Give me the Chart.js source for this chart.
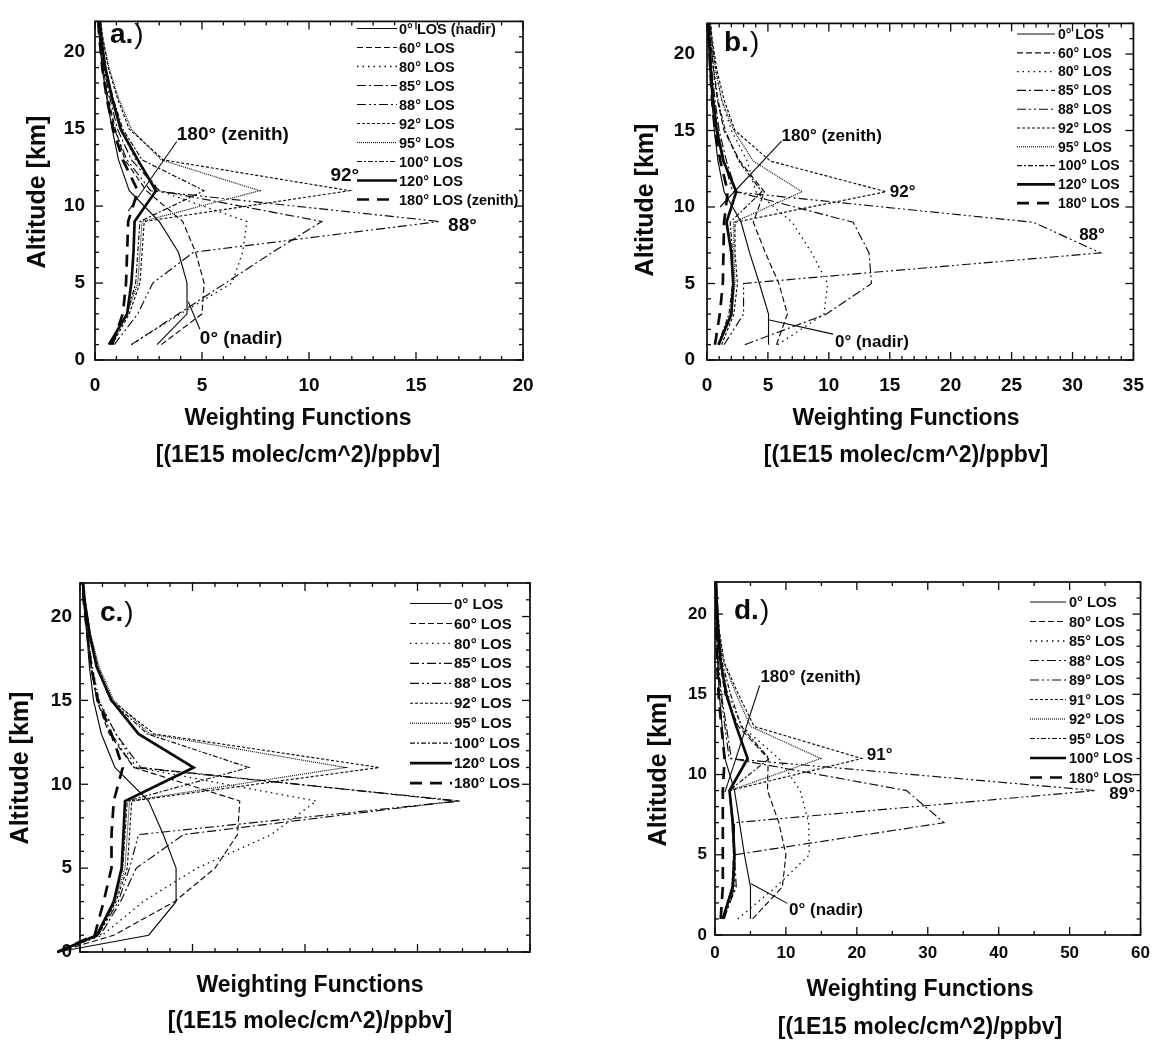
<!DOCTYPE html>
<html>
<head>
<meta charset="utf-8">
<script src="https://cdn.jsdelivr.net/npm/chart.js@4/dist/chart.umd.min.js"></script>
<style>
html,body{margin:0;padding:0;background:#fff;width:1158px;height:1042px;overflow:hidden}
canvas{position:absolute;left:0;top:0}
</style>
</head>
<body>
<canvas id="pa" width="1158" height="1042"></canvas>
<canvas id="pb" width="1158" height="1042"></canvas>
<canvas id="pc" width="1158" height="1042"></canvas>
<canvas id="pd" width="1158" height="1042"></canvas>
<script>
// ---------------- DATA ----------------
const altitudes = [1, 3, 5, 7, 9, 11, 13, 15, 17, 19, 21, 23];
const altitudesC = [0, 1, 3, 5, 7, 9, 11, 13, 15, 17, 19, 21, 23];

const labelsA = ['0° LOS (nadir)', '60° LOS', '80° LOS', '85° LOS', '88° LOS', '92° LOS', '95° LOS', '100° LOS', '120° LOS', '180° LOS (zenith)'];
const labelsBC = ['0° LOS', '60° LOS', '80° LOS', '85° LOS', '88° LOS', '92° LOS', '95° LOS', '100° LOS', '120° LOS', '180° LOS'];
const labelsD = ['0° LOS', '80° LOS', '85° LOS', '88° LOS', '89° LOS', '91° LOS', '92° LOS', '95° LOS', '100° LOS', '180° LOS'];

// panel a
const a0   = [2.9, 4.3, 4.3, 3.9, 3.0, 1.6, 1.1, 0.8, 0.55, 0.33, 0.2, 0.1];
const a60  = [3.1, 5.0, 5.1, 4.7, 4.1, 2.4, 1.4, 0.95, 0.62, 0.38, 0.22, 0.12];
const a80  = [1.7, 4.0, 6.4, 6.9, 7.1, 3.0, 1.9, 1.2, 0.8, 0.48, 0.28, 0.15];
const a85  = [1.7, 3.9, 6.1, 8.3, 10.6, 3.0, 1.7, 1.05, 0.7, 0.42, 0.25, 0.13];
const a88  = [0.9, 2.0, 2.7, 4.6, 16.1, 2.6, 1.5, 0.9, 0.58, 0.35, 0.21, 0.11];
const a92  = [0.8, 1.6, 2.1, 2.2, 2.3, 11.9, 3.2, 1.6, 1.05, 0.62, 0.35, 0.18];
const a95  = [0.75, 1.5, 2.0, 2.1, 2.2, 7.7, 3.1, 1.7, 1.1, 0.65, 0.36, 0.19];
const a100 = [0.7, 1.5, 1.9, 2.0, 2.1, 5.1, 2.2, 1.3, 0.85, 0.5, 0.3, 0.16];
const a120 = [0.65, 1.5, 1.7, 1.8, 1.85, 2.85, 2.0, 1.2, 0.8, 0.48, 0.28, 0.15];
const a180 = [0.8, 1.3, 1.45, 1.5, 1.55, 2.0, 1.3, 0.85, 0.55, 0.34, 0.2, 0.1];

// panel b
const b0   = [5.05, 5.05, 4.3, 3.5, 2.8, 1.4, 0.9, 0.6, 0.4, 0.25, 0.15, 0.08];
const b60  = [5.7, 6.6, 5.9, 4.8, 3.8, 4.7, 2.7, 1.4, 0.85, 0.52, 0.3, 0.15];
const b80  = [5.8, 9.6, 9.9, 8.6, 7.0, 4.0, 3.3, 2.0, 1.2, 0.7, 0.38, 0.2];
const b85  = [3.1, 9.8, 13.5, 13.3, 12.0, 2.4, 1.6, 1.0, 0.65, 0.4, 0.22, 0.12];
const b88  = [1.4, 3.0, 3.0, 32.3, 26.8, 2.1, 1.4, 0.9, 0.55, 0.34, 0.2, 0.1];
const b92  = [1.2, 2.2, 2.5, 2.3, 2.3, 14.7, 5.2, 2.3, 1.4, 0.8, 0.42, 0.2];
const b95  = [1.0, 2.0, 2.3, 2.2, 2.2, 7.8, 3.8, 2.2, 1.2, 0.7, 0.38, 0.18];
const b100 = [0.9, 1.8, 2.1, 2.1, 1.9, 4.5, 2.6, 1.5, 0.9, 0.55, 0.3, 0.15];
const b120 = [0.95, 2.0, 2.15, 2.0, 1.6, 2.4, 1.35, 0.8, 0.5, 0.3, 0.17, 0.08];
const b180 = [0.65, 1.05, 1.3, 1.35, 1.4, 1.7, 1.1, 0.65, 0.42, 0.26, 0.15, 0.07];

// panel c
const c0   = [-1.0, 3.05, 4.27, 4.27, 3.7, 3.05, 1.55, 0.95, 0.6, 0.42, 0.3, 0.15, 0.05];
const c60  = [-1.0, 1.5, 4.2, 6.0, 7.0, 7.1, 2.4, 1.3, 0.75, 0.5, 0.32, 0.17, 0.06];
const c80  = [-1.0, 1.0, 2.8, 5.2, 8.5, 10.5, 2.5, 1.6, 0.85, 0.55, 0.35, 0.18, 0.07];
const c85  = [-1.0, 0.9, 1.8, 2.5, 4.6, 16.7, 2.7, 1.6, 0.8, 0.5, 0.32, 0.17, 0.06];
const c88  = [-1.0, 0.8, 1.7, 2.2, 2.6, 16.9, 2.4, 1.4, 0.75, 0.48, 0.31, 0.16, 0.06];
const c92  = [-1.0, 0.8, 1.6, 2.1, 2.2, 2.3, 13.3, 3.3, 1.4, 0.8, 0.45, 0.22, 0.08];
const c95  = [-1.0, 0.78, 1.55, 2.0, 2.1, 2.2, 11.8, 3.1, 1.5, 0.85, 0.45, 0.22, 0.08];
const c100 = [-1.0, 0.75, 1.5, 1.9, 2.0, 2.1, 7.5, 3.0, 1.35, 0.75, 0.42, 0.2, 0.08];
const c120 = [-1.0, 0.75, 1.5, 1.85, 1.93, 2.0, 5.05, 2.6, 1.4, 0.74, 0.42, 0.2, 0.08];
const c180 = [-1.0, 0.65, 1.05, 1.4, 1.4, 1.5, 1.9, 1.4, 0.8, 0.5, 0.32, 0.16, 0.06];

// panel d
const d0   = [5.0, 5.0, 4.15, 3.45, 2.75, 1.4, 1.0, 0.6, 0.38, 0.22, 0.12, 0.05];
const d80  = [5.3, 9.5, 10.0, 9.0, 7.4, 7.5, 3.3, 1.4, 0.7, 0.4, 0.2, 0.08];
const d85  = [3.2, 8.6, 13.3, 13.2, 12.0, 9.0, 3.8, 1.8, 0.9, 0.5, 0.25, 0.1];
const d88  = [1.2, 3.0, 2.75, 32.3, 27.0, 2.3, 1.6, 0.9, 0.5, 0.3, 0.15, 0.06];
const d89  = [1.3, 2.8, 2.7, 2.75, 53.7, 2.0, 1.4, 0.8, 0.45, 0.27, 0.14, 0.06];
const d91  = [1.2, 2.6, 2.8, 2.6, 2.05, 20.7, 5.5, 3.3, 1.3, 0.6, 0.3, 0.12];
const d92  = [1.1, 2.5, 2.7, 2.5, 2.05, 14.9, 5.0, 3.0, 1.2, 0.55, 0.28, 0.11];
const d95  = [1.1, 2.4, 2.6, 2.4, 2.0, 7.65, 3.7, 2.2, 1.0, 0.5, 0.25, 0.1];
const d100 = [1.1, 2.5, 2.75, 2.5, 2.05, 4.6, 3.0, 1.6, 0.8, 0.45, 0.22, 0.09];
const d180 = [0.8, 1.1, 1.1, 1.1, 1.1, 1.35, 0.9, 0.5, 0.3, 0.18, 0.1, 0.04];

// ---------------- STYLE ----------------
const FONT = "'Liberation Sans', Arial, Helvetica, sans-serif";
Chart.defaults.font.family = FONT;
Chart.defaults.color = '#000';
const INK = '#0a0a0a';
const LINE_STYLES = [
  {w: 1.15, dash: []},
  {w: 1.15, dash: [6, 3]},
  {w: 1.3, dash: [1.5, 4]},
  {w: 1.15, dash: [9, 3, 2, 3]},
  {w: 1.15, dash: [9, 3, 2, 3, 2, 3]},
  {w: 1.15, dash: [3, 2]},
  {w: 1.15, dash: [1, 1]},
  {w: 1.15, dash: [5, 2, 2, 2]},
  {w: 2.7, dash: []},
  {w: 2.7, dash: [12, 8]}
];

const decor = {
  id: 'decor',
  afterDatasetsDraw(chart, args, o) {
    const ctx = chart.ctx, xs = chart.scales.x, ys = chart.scales.y, ca = chart.chartArea;
    const line = (x1, y1, x2, y2) => { ctx.beginPath(); ctx.moveTo(x1, y1); ctx.lineTo(x2, y2); ctx.stroke(); };
    ctx.save();
    ctx.strokeStyle = INK; ctx.fillStyle = INK; ctx.setLineDash([]);
    // frame
    ctx.lineWidth = 1.7;
    ctx.strokeRect(ca.left, ca.top, ca.right - ca.left, ca.bottom - ca.top);
    // ticks
    ctx.lineWidth = 1.3;
    const isMajor = (v, m) => Math.abs(v / m - Math.round(v / m)) < 1e-6;
    for (let v = xs.min; v <= xs.max + 1e-9; v += o.xMinor) {
      const px = xs.getPixelForValue(v);
      const len = isMajor(v, o.xMajor) ? 8 : 4;
      line(px, ca.bottom, px, ca.bottom - len);
      line(px, ca.top, px, ca.top + len);
    }
    for (let v = ys.min; v <= ys.max + 1e-9; v += 1) {
      const py = ys.getPixelForValue(v);
      const len = isMajor(v, 5) ? 8 : 4;
      line(ca.left, py, ca.left + len, py);
      line(ca.right, py, ca.right - len, py);
    }
    // legend
    const lg = o.legend;
    chart.data.datasets.forEach((ds, i) => {
      const y = lg.y0 + i * lg.dy;
      ctx.lineWidth = ds.borderWidth;
      ctx.setLineDash(ds.borderDash);
      line(lg.x0, y, lg.x1, y);
      ctx.setLineDash([]);
      ctx.font = 'bold ' + lg.size + 'px ' + FONT;
      ctx.textAlign = 'left'; ctx.textBaseline = 'middle';
      ctx.fillText(ds.label, lg.tx, y + 1);
    });
    // annotation pointers
    ctx.lineWidth = 1.1;
    (o.pointers || []).forEach(p => {
      line(xs.getPixelForValue(p.x1), ys.getPixelForValue(p.y1), xs.getPixelForValue(p.x2), ys.getPixelForValue(p.y2));
    });
    // annotation texts
    (o.notes || []).forEach(n => {
      ctx.font = 'bold ' + n.size + 'px ' + FONT;
      ctx.textAlign = n.align || 'left'; ctx.textBaseline = 'middle';
      ctx.fillText(n.t, xs.getPixelForValue(n.x), ys.getPixelForValue(n.y));
    });
    // panel letter
    const L = o.letter;
    ctx.textAlign = 'left'; ctx.textBaseline = 'middle';
    ctx.font = 'bold ' + L.size + 'px ' + FONT;
    ctx.fillText(L.t, L.x, L.y);
    const w = ctx.measureText(L.t).width;
    ctx.font = L.size + 'px ' + FONT;
    ctx.fillText(')', L.x + w + 1, L.y);
    // axis titles
    ctx.font = 'bold ' + o.xTitleSize + 'px ' + FONT;
    ctx.textAlign = 'center'; ctx.textBaseline = 'middle';
    ctx.fillText('Weighting Functions', o.xTitle.cx, o.xTitle.y1);
    ctx.fillText('[(1E15 molec/cm^2)/ppbv]', o.xTitle.cx, o.xTitle.y2);
    ctx.font = 'bold ' + o.yTitleSize + 'px ' + FONT;
    ctx.save();
    ctx.translate(o.yTitle.x, o.yTitle.y);
    ctx.rotate(-Math.PI / 2);
    ctx.fillText('Altitude [km]', 0, 0);
    ctx.restore();
    ctx.restore();
  }
};

function buildChart(id, P) {
  const datasets = P.series.map((vals, i) => ({
    label: P.labels[i],
    data: vals.map((v, k) => ({x: v, y: P.alts[k]})),
    borderColor: INK,
    borderWidth: LINE_STYLES[i].w,
    borderDash: LINE_STYLES[i].dash,
    pointRadius: 0,
    tension: 0,
    fill: false,
    clip: P.clip
  }));
  const YW = 60, XH = 40, W = 1158, H = 1042;
  return new Chart(document.getElementById(id), {
    type: 'line',
    data: {datasets},
    options: {
      responsive: false, animation: false, devicePixelRatio: 1,
      layout: {padding: {left: P.L - YW, top: P.T, right: W - P.R, bottom: H - P.B - XH}},
      plugins: {legend: {display: false}, tooltip: {enabled: false}, decor: P.decor},
      scales: {
        x: {
          type: 'linear', position: 'bottom', min: 0, max: P.xmax,
          ticks: {display: P.xLabels, stepSize: P.xMajor, autoSkip: false, maxRotation: 0,
                  padding: P.xPad, color: INK, font: {size: P.tickSize, weight: 'bold'}},
          grid: {display: false, drawTicks: false}, border: {display: false},
          afterBuildTicks: s => { s.ticks = s.ticks.filter(t => Math.abs(t.value / P.xMajor - Math.round(t.value / P.xMajor)) < 1e-6); },
          afterFit: s => { s.height = XH; }
        },
        y: {
          type: 'linear', min: 0, max: 22,
          ticks: {stepSize: 5, autoSkip: false, padding: P.yPad, color: INK, font: {size: P.tickSize, weight: 'bold'}},
          grid: {display: false, drawTicks: false}, border: {display: false},
          afterBuildTicks: s => { s.ticks = s.ticks.filter(t => t.value % 5 === 0); },
          afterFit: s => { s.width = YW; }
        }
      }
    },
    plugins: [decor]
  });
}

buildChart('pa', {
  L: 95, R: 523, T: 12, B: 360, xmax: 20, xMajor: 5, xLabels: true, tickSize: 19, xPad: 14, yPad: 10,
  alts: altitudes, labels: labelsA, clip: 0,
  series: [a0, a60, a80, a85, a88, a92, a95, a100, a120, a180],
  decor: {
    xMinor: 1, xMajor: 5, xTitleSize: 23, yTitleSize: 25,
    legend: {x0: 357, x1: 397, tx: 399, y0: 28.5, dy: 19.0, size: 14.5},
    letter: {t: 'a.', x: 110, y: 35, size: 28},
    xTitle: {cx: 298, y1: 419, y2: 456},
    yTitle: {x: 38, y: 192},
    pointers: [{x1: 3.82, y1: 14.2, x2: 1.56, y2: 9.68}, {x1: 4.9, y1: 2.0, x2: 4.36, y2: 3.79}],
    notes: [
      {t: '180° (zenith)', x: 3.82, y: 14.65, size: 19},
      {t: '92°', x: 11.0, y: 12.0, size: 19},
      {t: '88°', x: 16.5, y: 8.72, size: 19},
      {t: '0° (nadir)', x: 4.9, y: 1.39, size: 19}
    ]
  }
});

buildChart('pb', {
  L: 707, R: 1134, T: 12, B: 360, xmax: 35, xMajor: 5, xLabels: true, tickSize: 19, xPad: 14, yPad: 12,
  alts: altitudes, labels: labelsBC, clip: 0,
  series: [b0, b60, b80, b85, b88, b92, b95, b100, b120, b180],
  decor: {
    xMinor: 1, xMajor: 5, xTitleSize: 23, yTitleSize: 25,
    legend: {x0: 1017, x1: 1055, tx: 1058, y0: 34, dy: 18.8, size: 14},
    letter: {t: 'b.', x: 724, y: 43, size: 28},
    xTitle: {cx: 906, y1: 419, y2: 456},
    yTitle: {x: 646, y: 200},
    pointers: [{x1: 6.12, y1: 14.3, x2: 1.07, y2: 10.0}, {x1: 10.35, y1: 1.69, x2: 5.03, y2: 2.63}],
    notes: [
      {t: '180° (zenith)', x: 6.12, y: 14.65, size: 17},
      {t: '92°', x: 15.0, y: 10.93, size: 17},
      {t: '88°', x: 31.6, y: 8.15, size: 17, align: 'center'},
      {t: '0° (nadir)', x: 10.5, y: 1.16, size: 17}
    ]
  }
});

buildChart('pc', {
  L: 80, R: 530, T: 583, B: 952, xmax: 20, xMajor: 5, xLabels: false, tickSize: 19, xPad: 14, yPad: 8,
  alts: altitudesC, labels: labelsBC, clip: {left: false, top: 0, right: 0, bottom: false},
  series: [c0, c60, c80, c85, c88, c92, c95, c100, c120, c180],
  decor: {
    xMinor: 1, xMajor: 5, xTitleSize: 23, yTitleSize: 25,
    legend: {x0: 410, x1: 452, tx: 454, y0: 603.5, dy: 19.95, size: 15},
    letter: {t: 'c.', x: 100, y: 613, size: 28},
    xTitle: {cx: 310, y1: 986, y2: 1022},
    yTitle: {x: 21, y: 768},
    pointers: [],
    notes: []
  }
});

buildChart('pd', {
  L: 715, R: 1144, T: 582, B: 935, xmax: 60, xMajor: 10, xLabels: true, tickSize: 17, xPad: 8, yPad: 8,
  alts: altitudes, labels: labelsD, clip: 0,
  series: [d0, d80, d85, d88, d89, d91, d92, d95, d100, d180],
  decor: {
    xMinor: 5, xMajor: 10, xTitleSize: 23, yTitleSize: 25,
    legend: {x0: 1030, x1: 1066, tx: 1069, y0: 602, dy: 19.5, size: 14.5},
    letter: {t: 'd.', x: 734, y: 611, size: 28},
    xTitle: {cx: 920, y1: 990, y2: 1028},
    yTitle: {x: 659, y: 770},
    pointers: [{x1: 6.3, y1: 15.55, x2: 1.4, y2: 8.9}, {x1: 10.2, y1: 1.97, x2: 5.08, y2: 3.2}],
    notes: [
      {t: '180° (zenith)', x: 6.4, y: 16.05, size: 17},
      {t: '91°', x: 21.4, y: 11.2, size: 17},
      {t: '89°', x: 55.6, y: 8.75, size: 17},
      {t: '0° (nadir)', x: 10.44, y: 1.51, size: 17}
    ]
  }
});
</script>
</body>
</html>
